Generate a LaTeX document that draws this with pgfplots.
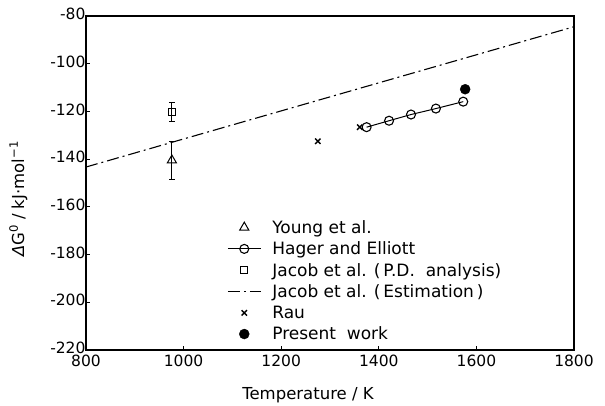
\documentclass[border=0pt]{standalone}
\usepackage{fontspec}
\setmainfont{DejaVu Sans}
\usepackage{pgfplots}
\pgfplotsset{compat=1.18}
\begin{document}
\begin{tikzpicture}
\begin{axis}[
  scale only axis,
  width=488pt, height=334pt,
  at={(0,0)}, anchor=south west,
  xmin=800, xmax=1800, ymin=-220, ymax=-80,
  xtick={800,1000,...,1800}, ytick={-220,-200,...,-80},
  tick align=inside, xtick pos=bottom, ytick pos=left,
  major tick length=4pt,
  axis line style={line width=1.3pt},
  tick style={line width=1pt, black},
  /pgf/number format/assume math mode=true,
  /pgf/number format/1000 sep={},
  ticklabel style={font=\fontsize{15.5}{17}\selectfont},
  xticklabel style={yshift=-1pt},
  yticklabel style={xshift=3pt, yshift=2pt},
  xlabel={Temperature / K},
  ylabel={{\itshape Δ}G\textsuperscript{0} / kJ·mol\textsuperscript{−1}},
  label style={font=\fontsize{16.5}{18}\selectfont},
  xlabel style={yshift=-14pt, xshift=-22pt},
  ylabel style={yshift=16pt, xshift=-16pt},
  legend image code/.code={\draw[mark repeat=2, mark phase=2, #1] plot coordinates {(0pt,0pt) (16.5pt,0pt) (33pt,0pt)};},
  legend style={at={(rel axis cs:0.289,0.395)}, anchor=north west, draw=none, fill=none,
     font=\fontsize{17}{19}\selectfont, row sep=3pt, inner sep=0pt,
     /tikz/every odd column/.append style={column sep=9pt}},
  legend cell align=left,
]
% Young et al.
\addplot[only marks, mark=triangle, mark size=5.3pt, line width=1pt, black,
  error bars/.cd, y dir=both, y explicit, error bar style={line width=0.9pt}, error mark options={rotate=90, mark size=3pt, line width=0.9pt}]
  coordinates {(976,-140.5) +- (0,8)};
\addlegendentry{Young et al.}
% Hager and Elliott
\addplot[black, line width=1pt, mark=o, mark size=4.5pt, mark options={fill=white, line width=1.1pt}]
  coordinates {(1375,-126.6) (1421,-123.9) (1466,-121.3) (1517,-118.8) (1573,-115.9)};
\addlegendentry{Hager and Elliott}
% Jacob et al. P.D.
\addplot[only marks, mark=square, mark size=3.6pt, line width=1pt, black,
  error bars/.cd, y dir=both, y explicit, error bar style={line width=0.9pt}, error mark options={rotate=90, mark size=3pt, line width=0.9pt}]
  coordinates {(976,-120.3) +- (0,4)};
\addlegendentry{Jacob et al. (\,P.D.\ \ analysis)}
% Jacob et al. Estimation
\addplot[black, line width=1.1pt, dash pattern=on 12pt off 4pt on 2pt off 4pt]
  coordinates {(800,-143.3) (1800,-84.5)};
\addlegendentry{Jacob et al. (\,Estimation\,)}
% Rau
\addplot[only marks, mark=x, mark size=3.8pt, line width=1.4pt, black]
  coordinates {(1275,-132.5) (1361,-126.6)};
\addlegendentry{Rau}
% Present work
\addplot[only marks, mark=*, mark size=5pt, black]
  coordinates {(1577,-110.7)};
\addlegendentry{Present\ \ work}
\end{axis}
\path[use as bounding box] (-86pt,-55pt) rectangle (519pt,350pt);
\end{tikzpicture}
\end{document}
